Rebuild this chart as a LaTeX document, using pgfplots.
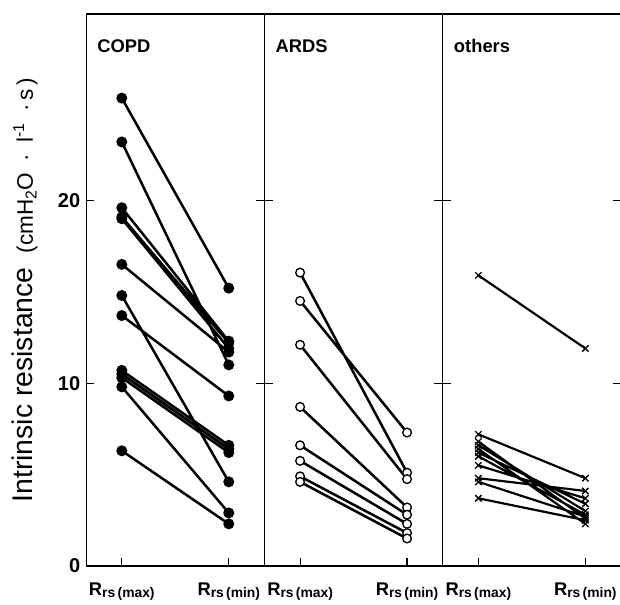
\documentclass[border=0pt]{standalone}
\usepackage{fontspec}
\setmainfont{Liberation Sans}
\usepackage{pgfplots}
\pgfplotsset{compat=1.18}

\newcommand{\xlab}[1]{\textbf{R}{\fontsize{8.3}{10}\selectfont\raisebox{-0.25ex}{\textbf{rs}\,\textbf{(#1)}}}}

\pgfplotsset{
  panel/.style={
    scale only axis, width=106.8pt, height=330.6pt,
    xmin=0, xmax=1, ymin=0, ymax=30.2,
    xtick={0.2,0.8}, xticklabels={\xlab{max},\xlab{min}},
    xtick pos=bottom,
    ytick={10,20}, yticklabels={}, ytick pos=both,
    tick align=inside, major tick length=5pt,
    axis line style={line width=0.7pt},
    tick style={line width=0.7pt, black},
    xticklabel style={font=\fontsize{11}{13}\selectfont, yshift=-6.5pt},
    unbounded coords=jump, clip=false,
  },
  copd/.style={black, line width=1.5pt, mark=*, mark size=2.5pt, mark options={solid, fill=black}},
  ards/.style={black, line width=1.5pt, mark=*, mark size=2.6pt, mark options={solid, fill=white, line width=0.8pt}},
  oth/.style={black, line width=1.3pt, mark=x, mark size=2.7pt, mark options={solid, line width=0.8pt}},
}

\begin{document}
\begin{tikzpicture}
% COPD
\begin{axis}[panel, at={(0pt,0pt)},
  ytick={0,10,20}, yticklabels={0,10,20}, yticklabel pos=left,
  yticklabel style={font=\bfseries\fontsize{12}{14}\selectfont},
  ylabel={{\fontsize{17}{19}\selectfont Intrinsic resistance}\ \ \ {\fontsize{13.5}{15}\selectfont (cmH\textsubscript{2}O\enspace·\enspace l\textsuperscript{-1}\enspace·\,s\,)}},
  ylabel style={at={(axis description cs:-0.343,0.5)}, anchor=center}]
\addplot[copd] table {
x y
0.2 25.6
0.8 15.2
nan nan
0.2 23.2
0.8 11.0
nan nan
0.2 19.6
0.8 12.3
nan nan
0.2 19.1
0.8 12.2
nan nan
0.2 19.0
0.8 11.9
nan nan
0.2 16.5
0.8 11.7
nan nan
0.2 14.8
0.8 4.6
nan nan
0.2 13.7
0.8 9.3
nan nan
0.2 10.7
0.8 6.6
nan nan
0.2 10.5
0.8 6.4
nan nan
0.2 10.3
0.8 6.2
nan nan
0.2 9.8
0.8 2.9
nan nan
0.2 6.3
0.8 2.3
};
\node[anchor=west] at (rel axis cs:0.03,0.942) {\bfseries\fontsize{11}{13}\selectfont COPD};
\end{axis}
% ARDS
\begin{axis}[panel, at={(106.8pt,0pt)}]
\addplot[ards] table {
x y
0.2 16.05
0.8 5.1
nan nan
0.2 14.5
0.8 7.3
nan nan
0.2 12.1
0.8 4.75
nan nan
0.2 8.7
0.8 3.2
nan nan
0.2 6.6
0.8 2.8
nan nan
0.2 5.75
0.8 2.3
nan nan
0.2 4.9
0.8 1.8
nan nan
0.2 4.6
0.8 1.5
};
\node[anchor=west] at (rel axis cs:0.03,0.942) {\bfseries\fontsize{11}{13}\selectfont ARDS};
\end{axis}
% others
\begin{axis}[panel, at={(213.6pt,0pt)}]
\addplot[oth] table {
x y
0.2 15.9
0.8 11.9
nan nan
0.2 7.2
0.8 4.8
nan nan
0.2 6.8
0.8 2.6
nan nan
0.2 6.6
0.8 3.0
nan nan
0.2 6.4
0.8 2.3
nan nan
0.2 6.2
0.8 3.4
nan nan
0.2 6.0
0.8 2.8
nan nan
0.2 5.5
0.8 3.7
nan nan
0.2 4.8
0.8 4.1
nan nan
0.2 4.6
0.8 2.7
nan nan
0.2 3.7
0.8 2.5
};
\node[anchor=west] at (rel axis cs:0.03,0.942) {\bfseries\fontsize{11}{13}\selectfont others};
\end{axis}
\pgfresetboundingbox
\path[use as bounding box] (-51.6pt,-23.4pt) rectangle (319.8pt,339pt);
\end{tikzpicture}
\end{document}
